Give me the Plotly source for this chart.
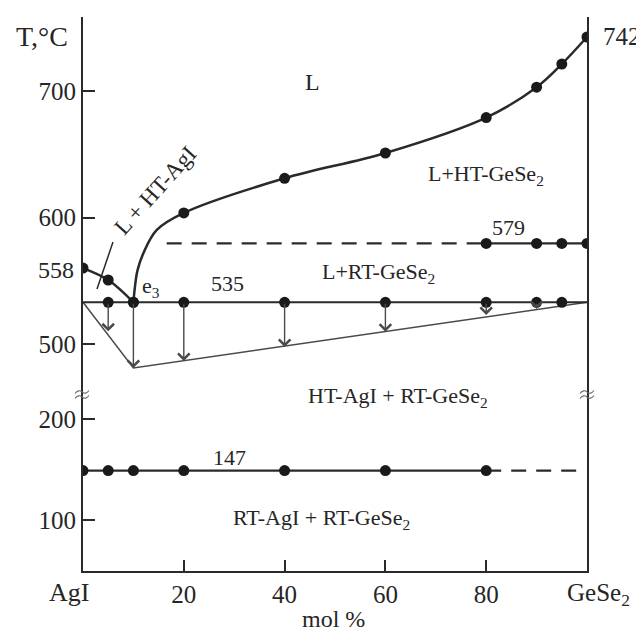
import plotly.graph_objects as go

# ---------------- data ----------------
# liquidus, AgI side
liq_left_x = [0, 5, 10]
liq_left_T = [560, 550.6, 533]
# liquidus, GeSe2 side (curve)
liq_right_x = [10, 10.3, 10.8, 12, 14.6, 20, 40, 60, 80, 90, 95, 100]
liq_right_T = [533, 545, 558, 572, 590, 603.6, 631, 651, 679, 703, 721.3, 742.7]
# experimental points on the GeSe2 liquidus
liq_pts_x = [20, 40, 60, 80, 90, 95, 100]
liq_pts_T = [603.6, 631, 651, 679, 703, 721.3, 742.7]

# eutectic horizontal (535)
eut_T = 533
eut_x_span = [0, 100]
eut_pts_x = [5, 10, 20, 40, 60, 80, 90, 95]

# GeSe2 polymorphic transition (579)
poly_T = 579.5
poly_dash_x = [16.6, 80]
poly_solid_x = [80, 100]
poly_pts_x = [80, 90, 95, 100]

# Tammann triangle
tam_x = [0, 10, 100]
tam_T = [533, 481, 533]
# arrows (thermal effect) from eutectic line down to triangle
arrow_x = [5, 10, 20, 40, 60, 80, 90]
arrow_end_T = [510, 481, 486.6, 497.6, 509.7, 522.9, 527.7]

# AgI transition (147)
agi_T = 149
agi_solid_x = [0, 80]
agi_dash_x = [80, 98]
agi_pts_x = [0, 5, 10, 20, 40, 60, 80]

# axis ticks
x_ticks = [20, 40, 60, 80]
y_low_ticks = [100, 200]
y_up_ticks = [500, 600, 700]
y_low_range = [49.5, 223.8]
y_up_range = [459.7, 758.5]

# ---------------- styling ----------------
FONT = "Liberation Serif"
FS = 22
TFS = 25
INK = "#262626"
LINE = "#2a2a2a"
THIN = "#4a4a4a"

# plot area in page pixels (the page body adds an 8 px offset)
OFF = 8
L, R, T, B = 83, 587, 17, 571
PW, PH = 644, 632
W, H = PW - OFF, PH - OFF
split = (B - 395) / (B - T)


def px(xp):
    return (xp - L) / (R - L)


def py(yp):
    return (B - yp) / (B - T)


fig = go.Figure()


def line(x, y, axis, width=2.2, color=LINE, dash=None, shape="linear"):
    fig.add_trace(go.Scatter(x=x, y=y, mode="lines", yaxis=axis,
                             line=dict(color=color, width=width, dash=dash, shape=shape, smoothing=1.0),
                             hoverinfo="skip", showlegend=False))


def dots(x, y, axis):
    fig.add_trace(go.Scatter(x=x, y=y, mode="markers", yaxis=axis,
                             marker=dict(color="#1a1a1a", size=11),
                             hoverinfo="skip", showlegend=False))


# upper part (y2)
line(tam_x, tam_T, "y2", width=1.5, color=THIN)
line(eut_x_span, [eut_T] * 2, "y2", width=2.2)
line(poly_dash_x, [poly_T] * 2, "y2", width=2.2, dash="15px,10px")
line(poly_solid_x, [poly_T] * 2, "y2", width=2.2)
line(liq_left_x, liq_left_T, "y2", width=2.5, shape="spline")
line(liq_right_x, liq_right_T, "y2", width=2.5, shape="spline")
dots(liq_left_x, liq_left_T, "y2")
dots(liq_pts_x, liq_pts_T, "y2")
dots(eut_pts_x, [eut_T] * len(eut_pts_x), "y2")
dots(poly_pts_x, [poly_T] * len(poly_pts_x), "y2")

# lower part (y)
line(agi_solid_x, [agi_T] * 2, "y", width=2.2)
line(agi_dash_x, [agi_T] * 2, "y", width=2.2, dash="15px,10px")
dots(agi_pts_x, [agi_T] * len(agi_pts_x), "y")

ann = []
for xa, te in zip(arrow_x, arrow_end_T):
    ann.append(dict(x=xa, y=te, xref="x", yref="y2", ax=xa, ay=eut_T, axref="x", ayref="y2",
                    showarrow=True, arrowhead=4, arrowsize=1.6, arrowwidth=1.4,
                    arrowcolor=THIN, text="", standoff=0))


def label(text, xp, yp, size=FS, angle=0, xanchor="center", color=INK):
    ann.append(dict(text=text, x=px(xp), y=py(yp), xref="paper", yref="paper",
                    showarrow=False, xanchor=xanchor, yanchor="middle", textangle=angle,
                    font=dict(family=FONT, size=size, color=color)))


label("T,°C", 42, 37, size=28)
label("742", 622, 36, size=25)
label("558", 56, 270, size=24)
label("L", 312, 82, size=24)
label("L + HT-AgI", 155, 190, size=23, angle=-48)
label("e<sub>3</sub>", 151, 287)
label("535", 227, 283)
label("L+HT-GeSe<sub>2</sub>", 486, 175)
label("579", 508, 228)
label("L+RT-GeSe<sub>2</sub>", 378, 273)
label("HT-AgI + RT-GeSe<sub>2</sub>", 398, 397)
label("147", 229, 457)
label("RT-AgI + RT-GeSe<sub>2</sub>", 321, 519)
label("AgI", 69, 592, size=26)
label("GeSe<sub>2</sub>", 598, 594, size=25)
label("mol %", 333, 619, size=24)

shapes = [dict(type="line", xref="paper", yref="paper",
               x0=px(97), y0=py(289), x1=px(113), y1=py(242),
               line=dict(color=LINE, width=1.5))]


def wave(xc, yc):
    pts = [(xc - 7, yc + 1.5), (xc - 3.5, yc - 3), (xc, yc), (xc + 3.5, yc + 3), (xc + 7, yc - 1.5)]
    p = [(px(a), py(b)) for a, b in pts]
    return (f"M{p[0][0]},{p[0][1]} Q{p[1][0]},{p[1][1]} {p[2][0]},{p[2][1]} "
            f"Q{p[3][0]},{p[3][1]} {p[4][0]},{p[4][1]}")


for xc in (82, 587):
    for yc in (392, 397):
        shapes.append(dict(type="path", xref="paper", yref="paper", path=wave(xc, yc),
                           line=dict(color="#666", width=1.1)))

fig.update_layout(
    width=W, height=H,
    margin=dict(l=L - OFF, r=PW - R, t=T - OFF, b=PH - B, pad=0),
    paper_bgcolor="white", plot_bgcolor="white",
    showlegend=False,
    annotations=ann, shapes=shapes,
    xaxis=dict(range=[0, 100], anchor="y", showgrid=False, zeroline=False,
               showline=True, linecolor=LINE, linewidth=2,
               tickvals=x_ticks, ticks="inside", ticklen=11, tickwidth=2, tickcolor=LINE,
               tickfont=dict(family=FONT, size=TFS, color=INK)),
    yaxis=dict(range=y_low_range, domain=[0, split], anchor="x", showgrid=False, zeroline=False,
               showline=True, mirror=True, linecolor=LINE, linewidth=2,
               tickvals=y_low_ticks, ticks="inside", ticklen=12, tickwidth=2, tickcolor=LINE,
               tickfont=dict(family=FONT, size=TFS, color=INK)),
    yaxis2=dict(range=y_up_range, domain=[split, 1], anchor="x", showgrid=False, zeroline=False,
                showline=True, mirror=True, linecolor=LINE, linewidth=2,
                tickvals=y_up_ticks, ticks="inside", ticklen=12, tickwidth=2, tickcolor=LINE,
                tickfont=dict(family=FONT, size=TFS, color=INK)),
)

fig.write_html("out.html")
